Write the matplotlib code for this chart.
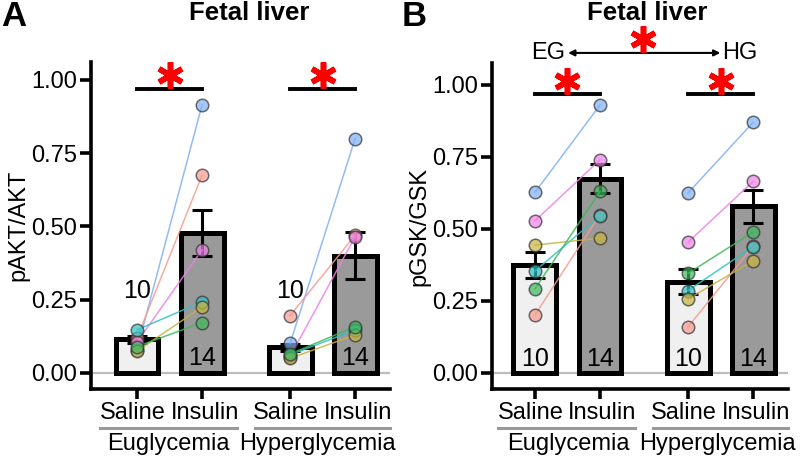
import matplotlib
matplotlib.use("Agg")
import matplotlib.pyplot as plt
import matplotlib.transforms as mtransforms
import numpy as np
from matplotlib.lines import Line2D

plt.rcParams['font.family'] = ['Liberation Sans', 'DejaVu Sans']

# ---------------- data ----------------
conditions = ["Saline", "Insulin", "Saline", "Insulin"]
groups = ["Euglycemia", "Hyperglycemia"]
n_labels = ["10", "14", "10", "14"]
animal_colors = ["#7fb0f5", "#f59a8e", "#ee80e6", "#2ec2c4", "#c8b440", "#3cb85c"]

# Panel A: pAKT/AKT  (order: blue, salmon, magenta, cyan, yellow, green)
A_EG_saline = [0.080, 0.120, 0.105, 0.147, 0.075, 0.090]
A_EG_insulin = [0.915, 0.675, 0.420, 0.243, 0.225, 0.172]
A_HG_saline = [0.101, 0.196, 0.056, 0.062, 0.050, 0.065]
A_HG_insulin = [0.800, 0.470, 0.465, 0.147, 0.130, 0.158]
A_mean = [0.115, 0.478, 0.087, 0.400]
A_sem = [0.012, 0.078, 0.013, 0.080]

# Panel B: pGSK/GSK
B_EG_saline = [0.627, 0.201, 0.528, 0.354, 0.444, 0.292]
B_EG_insulin = [0.930, 0.550, 0.740, 0.546, 0.468, 0.630]
B_HG_saline = [0.625, 0.160, 0.454, 0.286, 0.257, 0.346]
B_HG_insulin = [0.870, 0.440, 0.665, 0.439, 0.389, 0.489]
B_mean = [0.375, 0.675, 0.317, 0.578]
B_sem = [0.045, 0.050, 0.043, 0.058]

yticks = [0.00, 0.25, 0.50, 0.75, 1.00]
ytick_labels = ["0.00", "0.25", "0.50", "0.75", "1.00"]

# ---------------- figure ----------------
fig = plt.figure(figsize=(8, 4.58), dpi=100)

pos = np.array([0.0, 1.0, 2.354, 3.354])
bar_fc = ["#f0f0f0", "#9a9a9a", "#f0f0f0", "#9a9a9a"]
FS = 17
label_shift_px = [-4, 2.5, -4, 2.5]


def star(ax, x, y):
    ax.plot([x], [y], ls="none", marker=(6, 2, 0), ms=19, mec="#ff0000",
            mew=4, clip_on=False, zorder=6)


def panel(ax, means, sems, eg_s, eg_i, hg_s, hg_i, ylabel, ylim, xlim, n_pos,
          group_centers):
    ax.set_xlim(*xlim)
    ax.set_ylim(*ylim)
    ax.axhline(0, color="#bdbdbd", lw=1.6, zorder=0.5)
    ax.bar(pos, means, width=0.66, color=bar_fc, edgecolor="black",
           linewidth=3.6, zorder=1)
    ax.errorbar(pos, means, yerr=sems, fmt="none", ecolor="black",
                elinewidth=2.2, capsize=7, capthick=2.2, zorder=2)
    for (s_vals, i_vals, xs, xi) in [(eg_s, eg_i, pos[0], pos[1]),
                                     (hg_s, hg_i, pos[2], pos[3])]:
        for c, a, b in zip(animal_colors, s_vals, i_vals):
            ax.plot([xs, xi], [a, b], color=c, lw=1.1, alpha=0.85, zorder=3)
        for c, a, b in zip(animal_colors, s_vals, i_vals):
            ax.plot([xs, xi], [a, b], ls="none", marker="o", ms=9,
                    mfc=c, mec="#333333", mew=1.1, alpha=0.7, zorder=4)
    for x, lab, y in zip(pos, n_labels, n_pos):
        ax.text(x, y, lab, ha="center", va="center", fontsize=18, zorder=5)

    for s in ["top", "right"]:
        ax.spines[s].set_visible(False)
    for s in ["left", "bottom"]:
        ax.spines[s].set_linewidth(2.6)
    ax.set_yticks(yticks)
    ax.set_yticklabels(ytick_labels, fontsize=FS)
    ax.set_xticks(pos)
    ax.set_xticklabels([])
    ax.tick_params(axis="y", length=8, width=2.6, pad=2)
    ax.tick_params(axis="x", length=7, width=2.6, labelbottom=False)
    ax.set_ylabel(ylabel, fontsize=FS, labelpad=1)

    trans = ax.get_xaxis_transform()
    # condition labels (manually spaced like the reference)
    for x, lab, dx in zip(pos, conditions, label_shift_px):
        t = mtransforms.offset_copy(trans, fig=fig, x=dx, y=0, units="dots")
        ax.text(x, -0.073, lab, transform=t, ha="center", va="center",
                fontsize=FS)

    # group lines + labels
    for (x0, x1, xc, g) in [(-0.57, 1.54, group_centers[0], groups[0]),
                            (1.815, 3.89, group_centers[1], groups[1])]:
        ax.add_line(Line2D([x0, x1], [-0.119, -0.119], transform=trans,
                           color="#999999", lw=2.2, clip_on=False))
        ax.text(xc, -0.168, g, transform=trans, ha="center", va="center",
                fontsize=FS)

    # significance bars
    for (x0, x1) in [(pos[0], pos[1]), (pos[2], pos[3])]:
        ax.plot([x0, x1], [0.97, 0.97], color="black", lw=2.8,
                clip_on=False, zorder=5)
        star(ax, (x0 + x1) / 2, 1.015)


# Panel A
axA = fig.add_axes([91 / 800, 1 - 389 / 458, (390 - 91) / 800, (389 - 62) / 458])
panel(axA, A_mean, A_sem, A_EG_saline, A_EG_insulin, A_HG_saline, A_HG_insulin,
      "pAKT/AKT", (-0.0546, 1.061), (-0.708, 3.89), [0.28, 0.05, 0.28, 0.05],
      (0.485, 2.78))

# Panel B
axB = fig.add_axes([492 / 800, 1 - 389 / 458, (788 - 492) / 800, (389 - 63) / 458])
panel(axB, B_mean, B_sem, B_EG_saline, B_EG_insulin, B_HG_saline, B_HG_insulin,
      "pGSK/GSK", (-0.0556, 1.076), (-0.66, 3.89), [0.05, 0.05, 0.05, 0.05],
      (0.515, 2.8))

# EG <-> HG comparison in B
axB.annotate("", xy=(2.85, 1.111), xytext=(0.51, 1.111),
             arrowprops=dict(arrowstyle="<|-|>", color="black", lw=1.5,
                             mutation_scale=9, shrinkA=0, shrinkB=0),
             annotation_clip=False)
axB.text(0.2, 1.111, "EG", ha="center", va="center", fontsize=17, clip_on=False)
axB.text(3.15, 1.111, "HG", ha="center", va="center", fontsize=17, clip_on=False)
star(axB, 1.66, 1.16)

# titles & panel letters
fig.text(249 / 800, 1 - 13 / 458, "Fetal liver", ha="center",
         va="center", fontsize=18.5, fontweight="bold")
fig.text(647 / 800, 1 - 13 / 458, "Fetal liver", ha="center",
         va="center", fontsize=18.5, fontweight="bold")
fig.text(14 / 800, 1 - 17 / 458, "A", ha="center", va="center", fontsize=25,
         fontweight="bold")
fig.text(414 / 800, 1 - 17 / 458, "B", ha="center", va="center", fontsize=25,
         fontweight="bold")

fig.savefig("out.png", dpi=100)
